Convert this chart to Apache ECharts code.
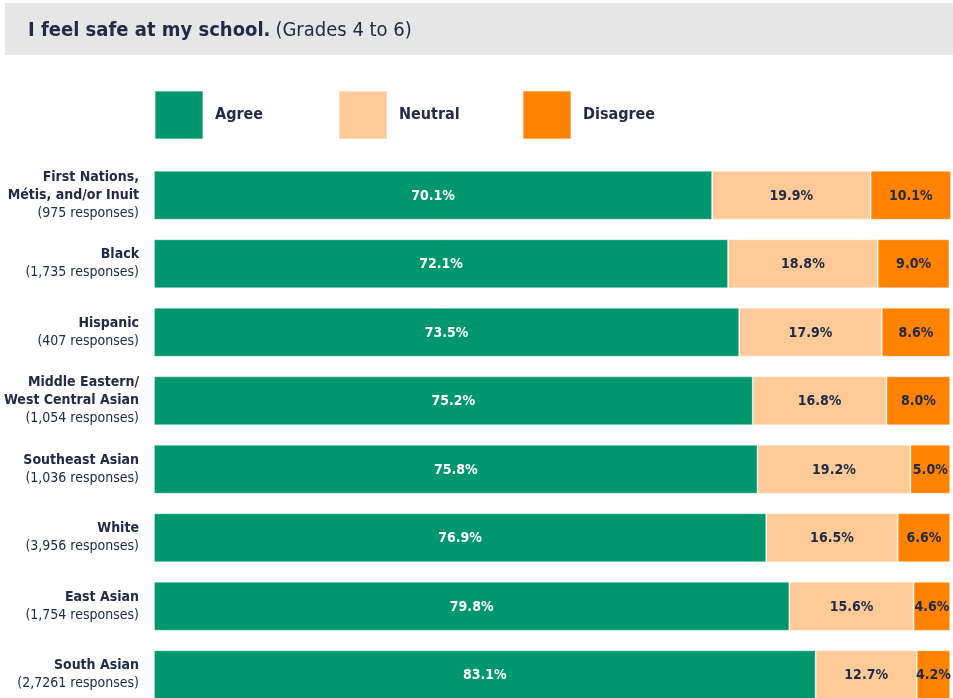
<!DOCTYPE html>
<html>
<head>
<meta charset="utf-8">
<script src="https://cdn.jsdelivr.net/npm/echarts@6/dist/echarts.min.js"></script>
<style>
html,body{margin:0;padding:0;background:#fff;}
#chart{width:953px;height:698px;}
</style>
</head>
<body>
<div id="chart"></div>
<script>
var groups = ['First Nations,\nMétis, and/or Inuit', 'Black', 'Hispanic', 'Middle Eastern/\nWest Central Asian', 'Southeast Asian', 'White', 'East Asian', 'South Asian'];
var responses = ['975', '1,735', '407', '1,054', '1,036', '3,956', '1,754', '2,7261'];
var agree = [70.1, 72.1, 73.5, 75.2, 75.8, 76.9, 79.8, 83.1];
var neutral = [19.9, 18.8, 17.9, 16.8, 19.2, 16.5, 15.6, 12.7];
var disagree = [10.1, 9.0, 8.6, 8.0, 5.0, 6.6, 4.6, 4.2];
var seriesNames = ['Agree', 'Neutral', 'Disagree'];
var colors = ['#00976f', '#fecb98', '#ff8300'];

var navy = '#222b48';
var FONT = "'DejaVu Sans Condensed', 'Liberation Sans Narrow', 'Open Sans', sans-serif";
var chart = echarts.init(document.getElementById('chart'));

var categories = groups.map(function (g, i) { return g + '|' + responses[i]; });

function mkSeries(name, data, color, labelColor) {
  return {
    name: name, type: 'bar', stack: 'total', data: data, barWidth: 49,
    itemStyle: { color: color, borderColor: 'rgba(255,255,255,0.35)', borderWidth: 1 },
    label: {
      show: true, position: 'inside', color: labelColor, offset: [0, 1],
      fontFamily: FONT, fontWeight: 'bold', fontSize: 14,
      formatter: function (p) { return p.value.toFixed(1) + '%'; }
    },
    emphasis: { disabled: true }
  };
}

function mkLegend(i, left) {
  return {
    left: left, top: 90, padding: 0, itemWidth: 48, itemHeight: 48, icon: 'rect',
    data: [seriesNames[i]], selectedMode: false,
    textStyle: { color: navy, fontFamily: FONT, fontWeight: 'bold', fontSize: 16, padding: [5, 0, 0, 7] }
  };
}

chart.setOption({
  animation: false,
  backgroundColor: '#ffffff',
  graphic: [{ type: 'rect', shape: { x: 5, y: 3, width: 948, height: 52 }, style: { fill: '#e6e6e6' }, z: -1 }],
  title: {
    left: 28, top: 21, padding: 0,
    text: '{b|I feel safe at my school.} {r|(Grades 4 to 6)}',
    textStyle: {
      rich: {
        b: { fontFamily: FONT, fontWeight: 'bold', fontSize: 20, color: navy },
        r: { fontFamily: FONT, fontWeight: 'normal', fontSize: 20, color: navy }
      }
    }
  },
  legend: [mkLegend(0, 154), mkLegend(1, 338), mkLegend(2, 522)],
  grid: { left: 154, top: 161, width: 797, height: 548, containLabel: false, outerBoundsMode: 'none' },
  xAxis: { type: 'value', min: 0, max: 100.1, show: false },
  yAxis: {
    type: 'category', inverse: true, data: categories,
    axisLine: { show: false }, axisTick: { show: false }, splitLine: { show: false },
    axisLabel: {
      margin: 15, align: 'right',
      formatter: function (v) {
        var parts = v.split('|');
        var lines = parts[0].split('\n').map(function (l) { return '{b|' + l + '}'; });
        lines.push('{r|(' + parts[1] + ' responses)}');
        return lines.join('\n');
      },
      rich: {
        b: { fontFamily: FONT, fontWeight: 'bold', fontSize: 14, color: navy, lineHeight: 18, align: 'right' },
        r: { fontFamily: FONT, fontSize: 14, color: navy, lineHeight: 18, align: 'right' }
      }
    }
  },
  series: [
    mkSeries('Agree', agree, colors[0], '#ffffff'),
    mkSeries('Neutral', neutral, colors[1], navy),
    mkSeries('Disagree', disagree, colors[2], navy)
  ]
});
</script>
</body>
</html>
